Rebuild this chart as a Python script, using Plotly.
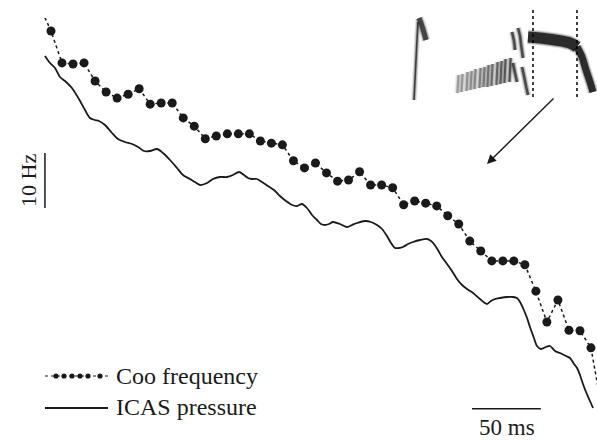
import plotly.graph_objects as go

W, H = 597, 440
INK = "#1a1a1a"
FONT = "Liberation Serif"

# ---- Coo frequency (Hz), one estimate every 8 ms; the outer two samples run off the frame
coo_time_ms = [-8, 0, 8, 16, 24, 32, 40, 48, 56, 64, 72, 80, 88, 96, 104, 112, 120, 128,
               136, 144, 152, 160, 168, 176, 184, 192, 200, 208, 216, 224, 232, 240, 248,
               256, 264, 272, 280, 288, 296, 304, 312, 320, 328, 336, 344, 352, 360, 368,
               376, 384, 392, 400]
coo_freq_hz = [654.4, 650.0, 644.2, 644.0, 644.2, 640.9, 638.9, 637.8, 638.5, 639.5, 636.7,
               636.9, 636.9, 634.2, 632.7, 630.4, 630.9, 631.3, 631.3, 631.3, 630.0, 629.6,
               629.3, 626.4, 625.1, 626.0, 624.2, 622.7, 622.9, 624.4, 622.0, 622.0, 621.5,
               618.4, 619.1, 618.7, 618.2, 616.4, 614.9, 611.8, 610.0, 608.2, 608.2, 608.2,
               607.5, 602.7, 597.1, 601.1, 595.6, 595.5, 592.4, 581.1]

# ---- ICAS pressure (kPa)
icas_time_ms = [-4.4, -0.7, 2.9, 6.5, 10.2, 15.2, 21.1, 24.7, 28.3, 31.9, 34.8, 39.2, 44.3,
                48.6, 53.7, 58.8, 63.2, 67.5, 71.9, 77.0, 81.3, 86.4, 91.5, 95.8, 100.9,
                104.5, 108.2, 113.3, 117.6, 122.7, 127.8, 132.1, 136.5, 140.1, 143.0, 145.9,
                149.5, 153.2, 157.5, 161.9, 166.2, 170.6, 175.0, 178.6, 182.2, 185.8, 189.5,
                193.1, 196.0, 198.9, 201.8, 204.7, 209.8, 214.9, 218.5, 222.1, 227.9, 232.3,
                236.7, 240.3, 243.9, 246.8, 249.7, 252.6, 255.5, 259.2, 262.8, 267.9, 273.0,
                275.9, 278.0, 280.9, 283.8, 287.5, 291.1, 294.7, 298.4, 302.0, 306.4, 311.4,
                316.5, 319.4, 322.3, 326.0, 331.0, 335.4, 338.3, 340.5, 342.6, 345.6, 347.7,
                350.6, 352.8, 355.7, 359.3, 362.3, 365.9, 369.5, 373.9, 376.8, 379.7, 381.9,
                384.0, 386.2, 388.4, 390.6, 393.5]
icas_kpa = [3.84, 3.77, 3.72, 3.63, 3.59, 3.52, 3.39, 3.30, 3.22, 3.20, 3.19, 3.15, 3.07,
            3.01, 2.98, 2.96, 2.93, 2.89, 2.89, 2.91, 2.87, 2.80, 2.72, 2.65, 2.61, 2.58,
            2.55, 2.57, 2.61, 2.63, 2.63, 2.65, 2.68, 2.65, 2.62, 2.61, 2.61, 2.58, 2.54,
            2.50, 2.44, 2.39, 2.35, 2.34, 2.36, 2.32, 2.25, 2.20, 2.16, 2.15, 2.16, 2.18,
            2.16, 2.13, 2.15, 2.17, 2.19, 2.18, 2.15, 2.11, 2.04, 1.97, 1.92, 1.92, 1.93,
            1.96, 1.98, 2.00, 2.01, 1.99, 1.96, 1.90, 1.83, 1.76, 1.69, 1.61, 1.55, 1.51,
            1.47, 1.41, 1.36, 1.39, 1.41, 1.42, 1.43, 1.43, 1.42, 1.38, 1.32, 1.22, 1.13,
            1.02, 0.94, 0.91, 0.93, 0.94, 0.89, 0.87, 0.84, 0.82, 0.76, 0.72, 0.65, 0.56,
            0.48, 0.41, 0.32]

# ---- scale bars
HZ_BAR_T, HZ_BAR_F0, HZ_BAR_LEN = -4.4, 617.8, 10.0
MS_BAR_T0, MS_BAR_LEN, MS_BAR_F = 305.6, 50.0, 581.3

# ---- inset spectrogram of the whole coo (inset time / frequency units)
whistle_t = [4, 5, 6, 7, 8]
whistle_f = [2, 22, 42, 62, 80]
onset_t = [9, 12, 16]
onset_f = [84, 76, 62]
stack_t = [48, 52, 57, 61, 65, 70, 74, 78, 82, 87, 91, 95, 100]
stack_lo = [9, 10, 11, 12, 13, 14, 15, 15, 16, 17, 18, 19, 20]
stack_hi = [27, 28, 30, 31, 33, 34, 35, 37, 38, 40, 41, 43, 44]
sweep_segments = [([102, 104, 105], [70, 61, 52]), ([103, 105, 107], [39, 29, 20]),
                  ([108, 110, 111, 113], [74, 66, 58, 44]), ([112, 114, 116, 118], [35, 26, 16, 7])]
band_t = [118, 130, 145, 160, 167]
band_f = [65, 64, 62, 59, 55]
tail_t = [167, 172, 176, 180, 183]
tail_f = [55, 45, 32, 20, 10]
marker_lines_t = [123, 167]
inset_f_span = [5, 93]

fig = go.Figure()


def stroke(t, f, width, color, core=0.8):
    """One spectrogram component: a few stacked translucent lines for a soft edge."""
    for extra, alpha in [(4, 0.12), (2, 0.25), (0, core)]:
        fig.add_trace(go.Scatter(x=t, y=f, xaxis="x2", yaxis="y2", mode="lines",
                                 line=dict(color=color, width=width + extra, shape="spline"),
                                 opacity=alpha, hoverinfo="skip", showlegend=False))


stroke(whistle_t, whistle_f, 1.6, "#222222")
stroke(onset_t, onset_f, 5, "#2a2a2a")
greys = ["#8a8a8a", "#848484", "#7e7e7e", "#787878", "#707070", "#686868", "#606060",
         "#585858", "#505050", "#484848", "#404040", "#383838", "#303030"]
for t, lo, hi, g in zip(stack_t, stack_lo, stack_hi, greys):
    stroke([t - 0.6, t + 0.6], [lo, hi], 2.2, g, core=0.75)
for seg_t, seg_f in sweep_segments:
    stroke(seg_t, seg_f, 2.6, "#303030")
stroke(band_t, band_f, 11, "#151515", core=0.85)
stroke(tail_t, tail_f, 7, "#151515", core=0.85)
for t in marker_lines_t:
    fig.add_trace(go.Scatter(x=[t, t], y=inset_f_span, xaxis="x2", yaxis="y2", mode="lines",
                             line=dict(color="black", width=1.5, dash="dot"),
                             hoverinfo="skip", showlegend=False))

# main traces
fig.add_trace(go.Scatter(x=icas_time_ms, y=icas_kpa, yaxis="y3", mode="lines",
                         line=dict(color=INK, width=1.8, shape="spline", smoothing=0.8),
                         name="ICAS pressure", showlegend=False))
fig.add_trace(go.Scatter(x=coo_time_ms, y=coo_freq_hz, mode="lines+markers",
                         line=dict(color=INK, width=1.5, dash="dot"),
                         marker=dict(size=9, color=INK),
                         name="Coo frequency", showlegend=False))

shapes = [
    dict(type="line", xref="x", yref="y", x0=HZ_BAR_T, x1=HZ_BAR_T,
         y0=HZ_BAR_F0, y1=HZ_BAR_F0 + HZ_BAR_LEN, line=dict(color=INK, width=1.5)),
    dict(type="line", xref="x", yref="y", x0=MS_BAR_T0, x1=MS_BAR_T0 + MS_BAR_LEN,
         y0=MS_BAR_F, y1=MS_BAR_F, line=dict(color=INK, width=1.5)),
    # legend keys
    dict(type="line", xref="paper", yref="paper", x0=45 / W, x1=108 / W,
         y0=1 - 376 / H, y1=1 - 376 / H, line=dict(color=INK, width=1.2, dash="dot")),
    dict(type="line", xref="paper", yref="paper", x0=45 / W, x1=108 / W,
         y0=1 - 408 / H, y1=1 - 408 / H, line=dict(color=INK, width=1.8)),
]
for px in [56, 64, 72, 80, 88, 100]:
    shapes.append(dict(type="circle", xref="paper", yref="paper",
                       xsizemode="pixel", ysizemode="pixel",
                       xanchor=px / W, yanchor=1 - 376 / H,
                       x0=-2.6, x1=2.6, y0=-2.6, y1=2.6,
                       fillcolor=INK, line=dict(width=0)))

txt = dict(family=FONT, size=24, color=INK)
annotations = [
    dict(text="Coo frequency", xref="paper", yref="paper", x=114 / W, y=1 - 376 / H,
         xanchor="left", yanchor="middle", showarrow=False, font=txt),
    dict(text="ICAS pressure", xref="paper", yref="paper", x=114 / W, y=1 - 407 / H,
         xanchor="left", yanchor="middle", showarrow=False, font=txt),
    dict(text="50 ms", xref="paper", yref="paper", x=507 / W, y=1 - 427 / H,
         xanchor="center", yanchor="middle", showarrow=False,
         font=dict(family=FONT, size=23, color=INK)),
    dict(text="10 Hz", xref="paper", yref="paper", x=28 / W, y=1 - 181 / H,
         xanchor="center", yanchor="middle", textangle=-90, showarrow=False,
         font=dict(family=FONT, size=22, color=INK)),
    dict(text="", xref="paper", yref="paper", x=487 / W, y=1 - 164 / H,
         ax=68, ay=-67, showarrow=True, arrowhead=2, arrowsize=1.3, arrowwidth=1.4,
         arrowcolor=INK),
]

fig.update_layout(
    width=W, height=H, margin=dict(l=0, r=0, t=0, b=0),
    paper_bgcolor="white", plot_bgcolor="white",
    font=dict(family=FONT, color=INK),
    xaxis=dict(range=[-37.02, 396.37], domain=[0, 1], visible=False),
    yaxis=dict(range=[575.64, 652.36], domain=[0, 1 - 18 / H], visible=False),
    yaxis3=dict(range=[0, 4.22], overlaying="y", visible=False),
    xaxis2=dict(range=[0, 187], domain=[410 / W, 1], anchor="y2", visible=False),
    yaxis2=dict(range=[0, 94], domain=[1 - 102 / H, 1 - 8 / H], anchor="x2", visible=False),
    shapes=shapes, annotations=annotations, showlegend=False,
)

fig.write_html("out.html", config={"displayModeBar": False})
